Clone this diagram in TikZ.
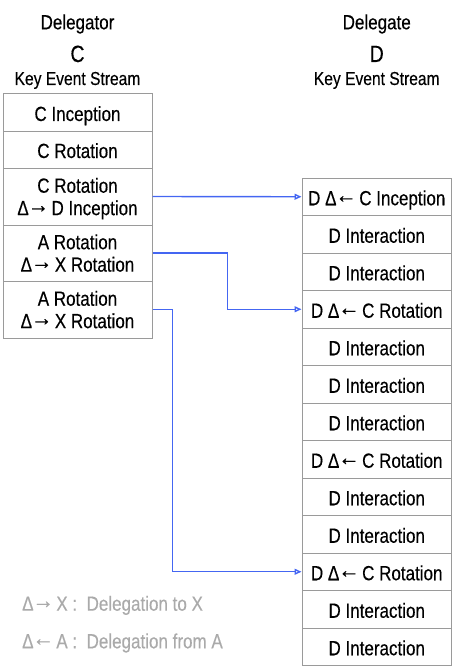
\documentclass[tikz,border=0pt]{standalone}
\usepackage{fontspec}
\usepackage{graphicx}
\setmainfont[FakeStretch=0.83,FakeBold=0.3]{Liberation Sans}
\usetikzlibrary{arrows.meta}
\definecolor{boxgray}{HTML}{9A9A9A}
\definecolor{connblue}{HTML}{4466F2}
\definecolor{legendgray}{HTML}{AAAAAA}
\newcommand\myra{\kern-1pt\raisebox{2.6pt}{\scalebox{1.25}[1.1]{→}}\kern-2.2pt}
\newcommand\myla{\kern-1pt\raisebox{2.6pt}{\scalebox{1.25}[1.1]{←}}\kern-2.2pt}
\tikzset{
  box/.style={draw=boxgray, line width=1pt, minimum width=149pt, minimum height=37pt,
    inner sep=0pt, text height=17pt, text depth=0pt, font=\fontsize{20.5}{22.4}\selectfont},
  rbox/.style={box, minimum width=149.5pt, minimum height=37.5pt},
  dbox/.style={draw=boxgray, line width=1pt, minimum width=149pt,
    inner sep=0pt, align=center, text depth=0pt, font=\fontsize{20.5}{22.4}\selectfont},
  conn/.style={draw=connblue, line width=1.4pt, -{Triangle[open,length=7pt,width=6pt]}},
  title/.style={anchor=base, inner sep=0pt, font=\fontsize{20.5}{22}\selectfont},
  bigletter/.style={anchor=base, inner sep=0pt, font=\fontsize{23.5}{26}\selectfont},
  subtitle/.style={anchor=base, inner sep=0pt, font=\fontsize{18.8}{21}\selectfont},
  legend/.style={anchor=base west, inner sep=0pt, text=legendgray, font=\fontsize{20.5}{22}\selectfont}
}
\begin{document}
\begin{tikzpicture}[x=1pt,y=-1pt]
\useasboundingbox (0,0) rectangle (452,666);
% titles
\node[title] (t1) at (77.5,29.3) {Delegator};
\node[bigletter] (t2) at (77.5,62) {C};
\node[subtitle] (t3) at (77.5,85) {Key Event Stream};
\node[title] (u1) at (376.75,29.3) {Delegate};
\node[bigletter] (u2) at (376.75,62) {D};
\node[subtitle] (u3) at (376.75,85) {Key Event Stream};
% left stream
\node[box] (L1) at (77.5,112.5) {C Inception};
\node[box] (L2) at (77.5,149.5) {C Rotation};
\node[dbox, minimum height=57pt] (L3) at (77.5,196.5) {C Rotation\\Δ\myra\ D Inception};
\node[dbox, minimum height=56pt] (L4) at (77.5,253) {A Rotation\\Δ\myra\ X Rotation};
\node[dbox, minimum height=57pt] (L5) at (77.5,309.5) {A Rotation\\Δ\myra\ X Rotation};
% right stream
\node[rbox] (R1) at (376.75,196.75) {D Δ\myla\ C Inception};
\node[rbox] (R2) at (376.75,234.25) {D Interaction};
\node[rbox] (R3) at (376.75,271.75) {D Interaction};
\node[rbox] (R4) at (376.75,309.25) {D Δ\myla\ C Rotation};
\node[rbox] (R5) at (376.75,346.75) {D Interaction};
\node[rbox] (R6) at (376.75,384.25) {D Interaction};
\node[rbox] (R7) at (376.75,421.75) {D Interaction};
\node[rbox] (R8) at (376.75,459.25) {D Δ\myla\ C Rotation};
\node[rbox] (R9) at (376.75,496.75) {D Interaction};
\node[rbox] (R10) at (376.75,534.25) {D Interaction};
\node[rbox] (R11) at (376.75,571.75) {D Δ\myla\ C Rotation};
\node[rbox] (R12) at (376.75,609.25) {D Interaction};
\node[rbox] (R13) at (376.75,646.75) {D Interaction};
% connectors
\draw[conn] (L3.east) -- (R1.west);
\draw[conn] (L4.east) -- ++(75,0) |- (R4.west);
\draw[conn] (L5.east) -- ++(20,0) |- (R11.west);
% legend
\node[legend] (g1) at (22,610.7) {Δ\myra\ X :~~Delegation to X};
\node[legend] (g2) at (22,648.3) {Δ\myla\ A :~~Delegation from A};
\end{tikzpicture}
\end{document}
